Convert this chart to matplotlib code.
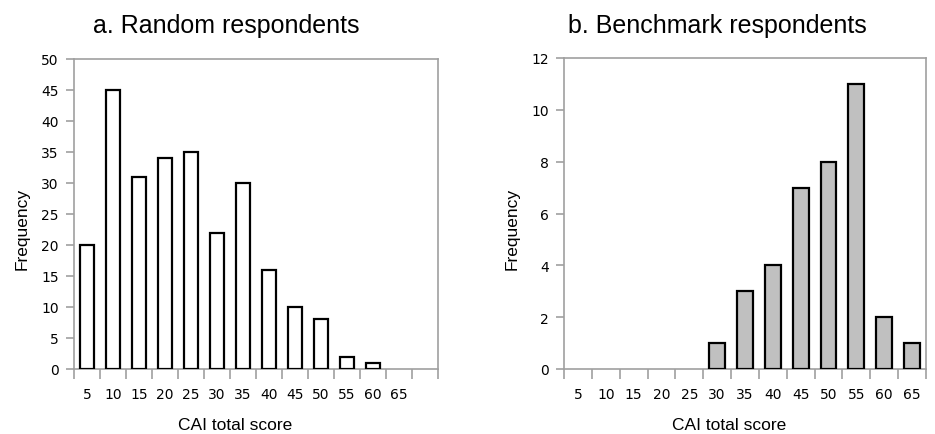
import matplotlib
matplotlib.use("Agg")
import matplotlib.pyplot as plt
import numpy as np

categories = ["5", "10", "15", "20", "25", "30", "35", "40", "45", "50", "55", "60", "65"]
random_freq = [20, 45, 31, 34, 35, 22, 30, 16, 10, 8, 2, 1, 0]
benchmark_freq = [0, 0, 0, 0, 0, 1, 3, 4, 7, 8, 11, 2, 1]

title_a = "a. Random respondents"
title_b = "b. Benchmark respondents"
xlabel = "CAI total score"
ylabel = "Frequency"

W, H = 935, 435
fig = plt.figure(figsize=(W / 100, H / 100), dpi=100)

SPINE = "#a0a0a0"
TICKFONT = dict(family="DejaVu Sans", size=10)
LABELFONT = dict(family="Liberation Sans", size=12.5)


def px_axes(x0, x1, ytop, ybot):
    return [x0 / W, (H - ybot) / H, (x1 - x0) / W, (ybot - ytop) / H]


def style(ax, nslots, ymax, ystep, yfrac_label_x):
    ax.set_xlim(-0.5, nslots - 0.5)
    ax.set_ylim(0, ymax)
    for s in ax.spines.values():
        s.set_color(SPINE)
        s.set_linewidth(1.2)
    ax.set_xticks(np.arange(len(categories)))
    ax.set_xticklabels(categories, **TICKFONT)
    ax.set_xticks(np.arange(nslots + 1) - 0.5, minor=True)
    ax.tick_params(axis="x", which="major", length=0, pad=13)
    ax.tick_params(axis="x", which="minor", length=7, width=1.2, color=SPINE, direction="out")
    yt = np.arange(0, ymax + 0.1, ystep)
    ax.set_yticks(yt)
    ax.set_yticklabels([f"{int(v)}" for v in yt], **TICKFONT)
    ax.tick_params(axis="y", length=6, width=1.2, color=SPINE, direction="out", pad=5)
    ax.set_xlabel(xlabel, **LABELFONT)
    ax.set_ylabel(ylabel, **LABELFONT)
    ax.yaxis.set_label_coords(yfrac_label_x, 0.455)


def draw_bars(ax, values, width, color):
    x = np.arange(len(values))
    v = np.asarray(values, dtype=float)
    keep = v > 0
    ax.bar(x[keep], v[keep], width=width, color=color, edgecolor="black",
           linewidth=1.6, zorder=3)


# Left panel
axA = fig.add_axes(px_axes(74, 438, 60, 370))
draw_bars(axA, random_freq, 0.53, "white")
style(axA, 14, 50, 5, -0.121)
axA.xaxis.set_label_coords(0.444, -0.155)

# Right panel
axB = fig.add_axes(px_axes(564, 926, 59, 370))
draw_bars(axB, benchmark_freq, 0.57, "#c0c0c0")
style(axB, 13, 12, 2, -0.1215)
axB.xaxis.set_label_coords(0.456, -0.155)

fig.text(226 / W, (H - 33) / H, title_a, ha="center", va="baseline",
         family="Liberation Sans", size=18)
fig.text(717 / W, (H - 33) / H, title_b, ha="center", va="baseline",
         family="Liberation Sans", size=18)

fig.savefig("out.png", dpi=100)
